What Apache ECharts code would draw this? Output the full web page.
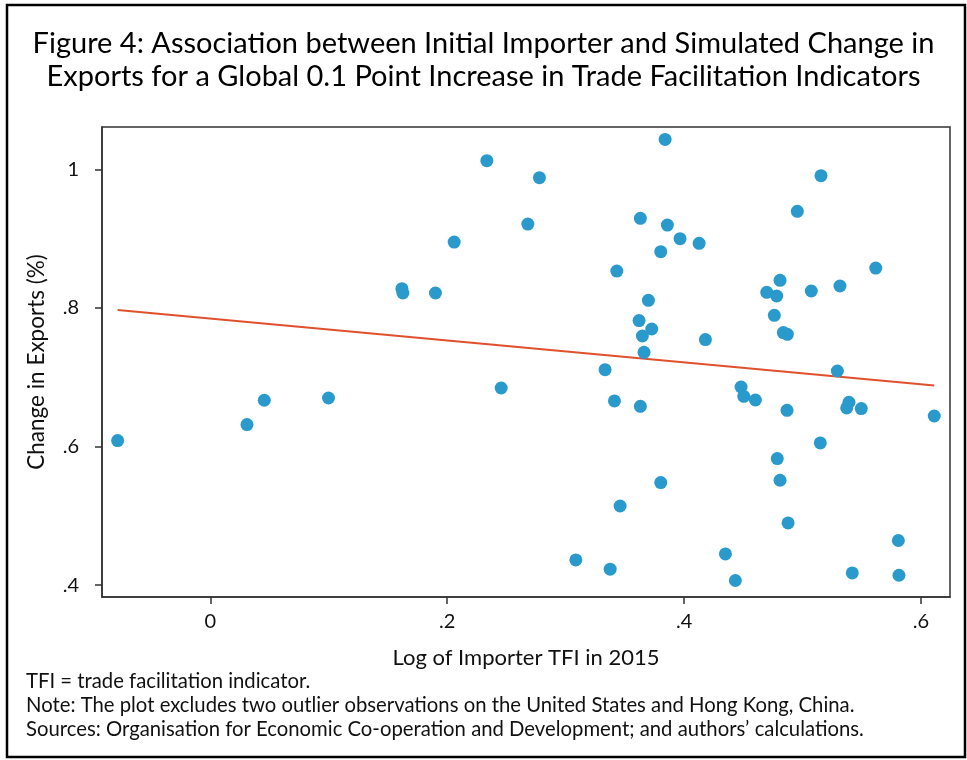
<!DOCTYPE html>
<html>
<head>
<meta charset="utf-8">
<script src="https://cdn.jsdelivr.net/npm/echarts@6/dist/echarts.min.js"></script>
<style>
html,body{margin:0;padding:0;background:#fff;}
#c{width:967px;height:760px;}
</style>
</head>
<body>
<div id="c"></div>
<script>
// Data
const tfiLog = [-0.0782,0.0310,0.0456,0.0998,0.1618,0.1626,0.1901,0.2059,0.2335,0.2456,0.2681,0.2779,0.3086,0.3333,0.3376,0.3412,0.3432,0.3460,0.3631,0.3620,0.3631,0.3648,0.3662,0.3699,0.3727,0.3803,0.3803,0.3840,0.3859,0.3966,0.4127,0.4180,0.4349,0.4433,0.4481,0.4504,0.4602,0.4698,0.4762,0.4782,0.4787,0.4810,0.4810,0.4838,0.4872,0.4869,0.4878,0.4956,0.5074,0.5150,0.5156,0.5294,0.5316,0.5373,0.5392,0.5420,0.5496,0.5618,0.5809,0.5814,0.6112];
const exportChange = [0.6087,0.6317,0.6668,0.6701,0.8278,0.8215,0.8215,0.8950,1.0124,0.6845,0.9210,0.9879,0.4365,0.7110,0.4231,0.6658,0.8532,0.5143,0.9292,0.7817,0.6581,0.7595,0.7360,0.8110,0.7696,0.8812,0.5481,1.0431,0.9195,0.8999,0.8932,0.7543,0.4451,0.4068,0.6859,0.6725,0.6672,0.8225,0.7893,0.8172,0.5827,0.8398,0.5514,0.7644,0.7619,0.6523,0.4898,0.9393,0.8244,0.6052,0.9908,0.7090,0.8316,0.6557,0.6639,0.4177,0.6548,0.8575,0.4645,0.4144,0.6441];
const fitX = [-0.0782, 0.6112];
const fitY = [0.797, 0.688];
const xTicks = [0, 0.2, 0.4, 0.6];
const yTicks = [0.4, 0.6, 0.8, 1.0];

const FONT = 'Lato';
const fmt = v => { const s = (Math.round(v*10)/10).toString(); return s.startsWith('0.') ? s.slice(1) : s; };

const chart = echarts.init(document.getElementById('c'), null, {renderer:'canvas'});
chart.setOption({
  backgroundColor:'#fff',
  animation:false,
  textStyle:{fontFamily:FONT},
  grid:{left:102, right:17, top:127, bottom:163, show:true, borderColor:'#333', borderWidth:1.5, backgroundColor:'transparent'},
  xAxis:{
    type:'value', min:-0.0914, max:0.6245,
    name:'Log of Importer TFI in 2015', nameLocation:'middle', nameGap:50,
    nameTextStyle:{fontFamily:FONT, fontSize:22, color:'#111'},
    axisLine:{show:true, onZero:false, lineStyle:{color:'#333', width:1.5}},
    axisTick:{show:true, length:7, customValues:xTicks, lineStyle:{color:'#333', width:1.5}},
    axisLabel:{customValues:xTicks, formatter:fmt, margin:15, fontFamily:FONT, fontSize:20, color:'#111'},
    splitLine:{show:false}
  },
  yAxis:{
    type:'value', min:0.383, max:1.061,
    name:'Change in Exports (%)', nameLocation:'middle', nameGap:54, nameRotate:90,
    nameTextStyle:{fontFamily:FONT, fontSize:22.5, color:'#111'},
    axisLine:{show:true, onZero:false, lineStyle:{color:'#333', width:1.5}},
    axisTick:{show:true, length:7, customValues:yTicks, lineStyle:{color:'#333', width:1.5}},
    axisLabel:{customValues:yTicks, formatter:fmt, margin:23, fontFamily:FONT, fontSize:20, color:'#111'},
    splitLine:{show:false}
  },
  series:[
    {type:'scatter', data:tfiLog.map((x,i)=>[x, exportChange[i]]), symbolSize:13,
     itemStyle:{color:'#2a9acd', opacity:1}, z:3},
    {type:'line', data:fitX.map((x,i)=>[x, fitY[i]]), symbol:'none',
     lineStyle:{color:'#e0502e', width:2}, z:2}
  ],
  graphic:[
    {type:'rect', shape:{x:7, y:5, width:958, height:752}, style:{fill:'none', stroke:'#000', lineWidth:2.5}, z:10},
    {type:'text', left:'center', top:27, style:{text:'Figure 4: Association between Initial Importer and Simulated Change in\nExports for a Global 0.1 Point Increase in Trade Facilitation Indicators', font:'29px Lato', fill:'#000', textAlign:'center', lineHeight:33}},
    {type:'text', left:26, top:671, style:{text:'TFI = trade facilitation indicator.', font:'20.3px Lato', fill:'#111'}},
    {type:'text', left:26, top:695, style:{text:'Note: The plot excludes two outlier observations on the United States and Hong Kong, China.', font:'20.3px Lato', fill:'#111'}},
    {type:'text', left:26, top:719, style:{text:'Sources: Organisation for Economic Co-operation and Development; and authors\u2019 calculations.', font:'20.3px Lato', fill:'#111'}}
  ]
});
</script>
</body>
</html>
